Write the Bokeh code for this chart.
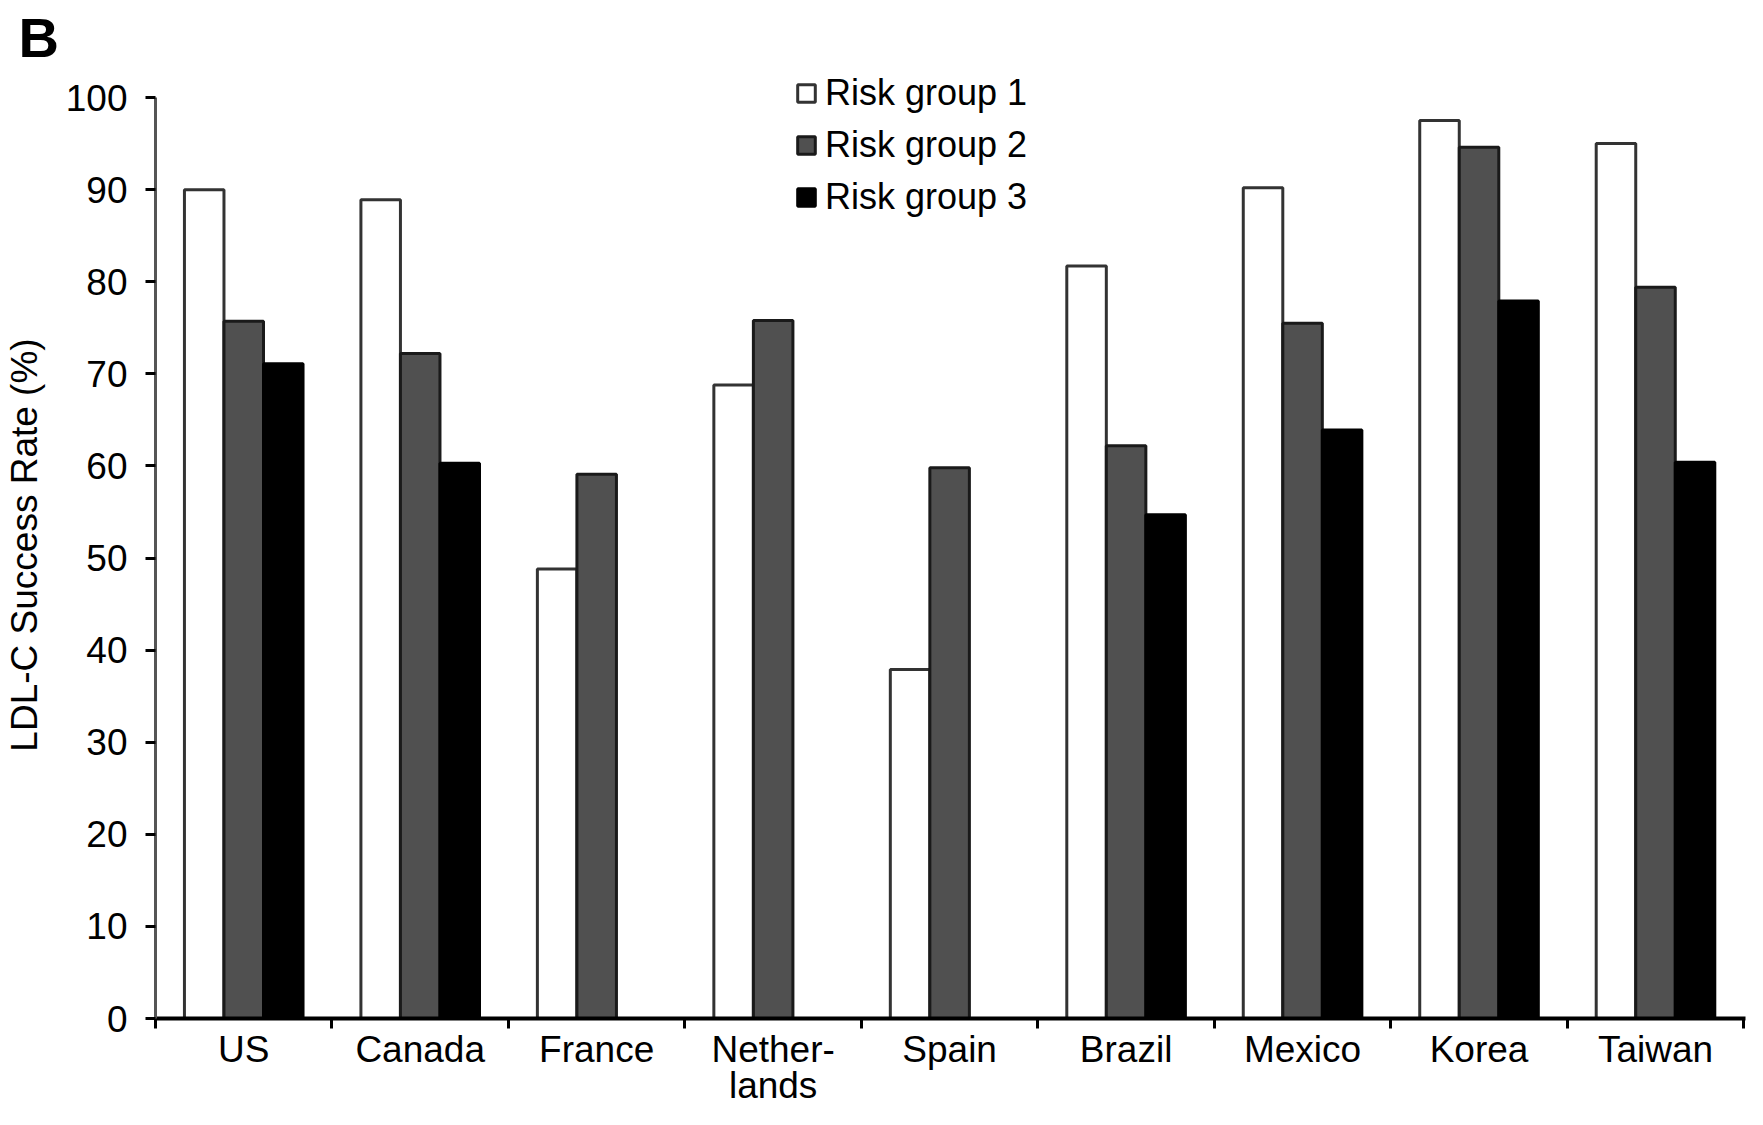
import math
from bokeh.plotting import figure
from bokeh.models import ColumnDataSource, FixedTicker, Range1d, Legend, LegendItem, Title
from bokeh.transform import dodge
from bokeh.embed import file_html
from bokeh.resources import INLINE

nan = float("nan")

categories = ["US", "Canada", "France", "Nether-\nlands", "Spain", "Brazil", "Mexico", "Korea", "Taiwan"]
series_names = ["Risk group 1", "Risk group 2", "Risk group 3"]
risk_group_1 = [90.0, 88.9, 48.8, 68.8, 37.9, 81.7, 90.2, 97.5, 95.0]
risk_group_2 = [75.7, 72.2, 59.1, 75.8, 59.8, 62.2, 75.5, 94.6, 79.4]
risk_group_3 = [71.1, 60.3, nan, nan, nan, 54.7, 63.9, 77.9, 60.4]
y_ticks = [0, 10, 20, 30, 40, 50, 60, 70, 80, 90, 100]

FONT = "Liberation Sans"

idx = list(range(len(categories)))
source = ColumnDataSource(data=dict(x=idx, g1=risk_group_1, g2=risk_group_2, g3=risk_group_3))

p = figure(width=1747, height=1109,
           x_range=Range1d(-0.5, 8.51), y_range=Range1d(0, 102.83),
           output_backend="svg", toolbar_location=None,
           min_border_left=147, min_border_right=2, min_border_top=0, min_border_bottom=0)

p.title = Title(text="B", text_font=FONT, text_font_size="56px", text_font_style="bold",
                text_color="black", offset=-137, standoff=6)

bw = 0.224
r1 = p.vbar(x=dodge("x", -bw, range=p.x_range), top="g1", width=bw, source=source,
            fill_color="white", line_color="#333333", line_width=3)
r2 = p.vbar(x=dodge("x", 0.0, range=p.x_range), top="g2", width=bw, source=source,
            fill_color="#505050", line_color="#1a1a1a", line_width=3)
r3 = p.vbar(x=dodge("x", bw, range=p.x_range), top="g3", width=bw, source=source,
            fill_color="black", line_color="black", line_width=3)

legend = Legend(items=[LegendItem(label=series_names[0], renderers=[r1]),
                       LegendItem(label=series_names[1], renderers=[r2]),
                       LegendItem(label=series_names[2], renderers=[r3])],
                location=(640, 800))
legend.background_fill_alpha = 0
legend.border_line_color = None
legend.padding = 0
legend.margin = 0
legend.spacing = 10
legend.glyph_width = 22
legend.glyph_height = 22
legend.label_standoff = 8
legend.label_height = 40
legend.label_text_font = FONT
legend.label_text_font_size = "36px"
legend.label_text_color = "black"
p.add_layout(legend)

p.xgrid.grid_line_color = None
p.ygrid.grid_line_color = None
p.outline_line_color = None
p.background_fill_color = "white"

# y axis
ya = p.yaxis[0]
ya.ticker = FixedTicker(ticks=y_ticks)
ya.bounds = (0, 100)
ya.axis_label = "LDL-C Success Rate (%)"
ya.axis_label_text_font = FONT
ya.axis_label_text_font_size = "37px"
ya.axis_label_text_font_style = "normal"
ya.axis_label_text_color = "black"
ya.axis_label_standoff = 18
ya.axis_line_color = "#555555"
ya.axis_line_width = 3
ya.major_tick_line_color = "black"
ya.major_tick_line_width = 3
ya.major_tick_out = 10
ya.major_tick_in = 0
ya.minor_tick_line_color = None
ya.major_label_text_font = FONT
ya.major_label_text_font_size = "37px"
ya.major_label_text_color = "black"
ya.major_label_standoff = 18

# x axis
xa = p.xaxis[0]
xa.ticker = FixedTicker(ticks=idx, minor_ticks=[i - 0.5 for i in range(len(categories) + 1)])
xa.major_label_overrides = {i: c for i, c in zip(idx, categories)}
xa.major_tick_line_color = None
xa.major_tick_out = 0
xa.major_tick_in = 0
xa.minor_tick_line_color = "black"
xa.minor_tick_line_width = 3
xa.minor_tick_out = 10
xa.minor_tick_in = 0
xa.axis_line_color = "black"
xa.axis_line_width = 4
xa.major_label_text_font = FONT
xa.major_label_text_font_size = "37px"
xa.major_label_text_color = "black"
xa.major_label_text_line_height = 0.9
xa.major_label_standoff = 0

open("out.html", "w").write(file_html(p, INLINE))
